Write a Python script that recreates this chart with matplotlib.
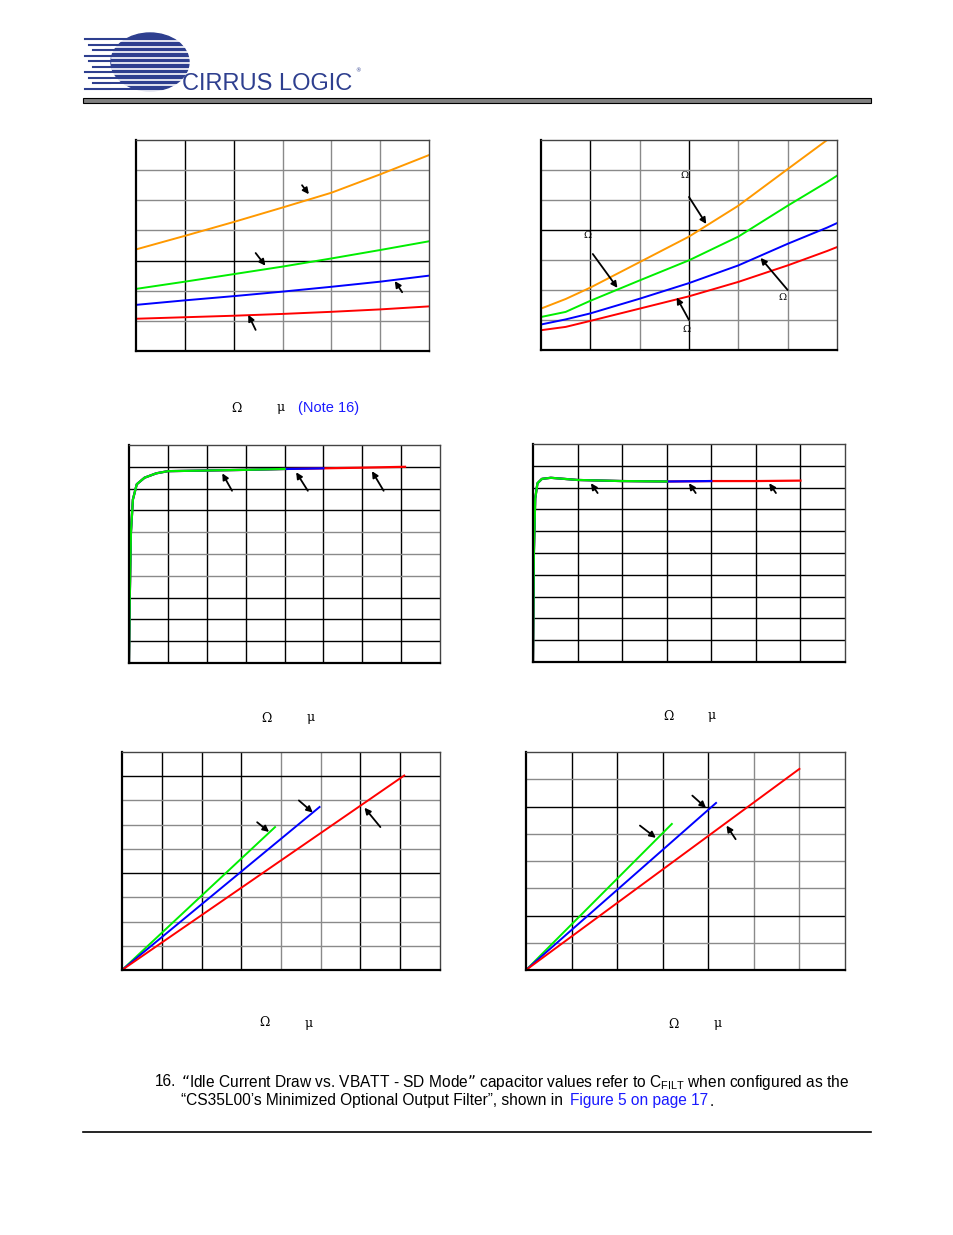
import numpy as np
import matplotlib
matplotlib.use("Agg")
import matplotlib.pyplot as plt
from matplotlib.patches import Rectangle, Ellipse

W, H = 954, 1235
fig = plt.figure(figsize=(W/100, H/100), dpi=100)
ORANGE, GREEN, BLUE, RED = "#ff9900", "#00ee00", "#0000ff", "#ff0000"

# ---------- data (grid units) ----------
# Chart A
a_x = [0, 1, 2, 3, 4, 5, 6]
a_orange = [3.37, 3.82, 4.28, 4.76, 5.25, 5.86, 6.5]
a_green = [2.06, 2.3, 2.55, 2.8, 3.07, 3.35, 3.64]
a_blue = [1.53, 1.68, 1.82, 1.97, 2.13, 2.3, 2.5]
a_red = [1.07, 1.12, 1.17, 1.23, 1.3, 1.38, 1.48]
# Chart B
b_x = [0, 0.5, 1, 2, 3, 4, 5, 5.8, 6]
b_orange = [1.38, 1.7, 2.08, 2.93, 3.78, 4.81, 6.03, 7.0, np.nan]
b_green = [1.1, 1.27, 1.64, 2.32, 2.99, 3.78, 4.81, 5.6, 5.81]
b_blue = [0.85, 1.02, 1.22, 1.71, 2.23, 2.82, 3.54, 4.08, 4.23]
b_red = [0.66, 0.77, 0.97, 1.38, 1.79, 2.27, 2.82, 3.3, 3.43]
# Chart C
c_x = [0, 0.02, 0.05, 0.1, 0.2, 0.4, 0.7, 1, 2, 3, 4, 5, 6, 7.1]
c_y = [0, 3, 6, 7.5, 8.2, 8.5, 8.7, 8.8, 8.83, 8.86, 8.9, 8.93, 8.96, 9.0]
c_end = {"red": 7.1, "blue": 5.0, "green": 4.0}
# Chart D
d_x = [0, 0.02, 0.05, 0.1, 0.2, 0.4, 0.7, 1, 2, 3, 4, 5, 6]
d_y = [0, 5, 7.5, 8.2, 8.4, 8.45, 8.4, 8.35, 8.3, 8.28, 8.3, 8.3, 8.32]
d_end = {"red": 6.0, "blue": 4.2, "green": 3.5}
# Chart E, F (linear, end points)
e_end = {"green": (3.85, 5.9), "blue": (4.97, 6.73), "red": (7.1, 8.03)}
f_end = {"green": (3.2, 5.36), "blue": (4.17, 6.13), "red": (6.0, 7.38)}

def add_ax(x0, y0, x1, y1, ncol, nrow, dark_cols=(), dark_rows=()):
    ax = fig.add_axes([x0/W, 1-y1/H, (x1-x0)/W, (y1-y0)/H])
    ax.set_xlim(0, ncol); ax.set_ylim(0, nrow)
    for i in range(1, ncol):
        ax.axvline(i, color="black" if i in dark_cols else "#8a8a8a", lw=1.0, zorder=0)
    for j in range(1, nrow):
        ax.axhline(j, color="black" if j in dark_rows else "#8a8a8a", lw=1.0, zorder=0)
    ax.set_xticks([]); ax.set_yticks([])
    for s in ax.spines.values():
        s.set_color("#444"); s.set_linewidth(1.0)
    ax.spines["left"].set_color("black"); ax.spines["bottom"].set_color("black")
    ax.spines["left"].set_linewidth(1.6); ax.spines["bottom"].set_linewidth(1.6)
    return ax

def arrow(ax, xy, xytext):
    ax.annotate("", xy=xy, xytext=xytext,
                arrowprops=dict(arrowstyle="-|>", color="black", lw=1.3, mutation_scale=9,
                                shrinkA=0, shrinkB=0))

# A
ax = add_ax(136, 140, 429, 351, 6, 7, dark_cols=(1, 2), dark_rows=(3,))
for y, c in [(a_orange, ORANGE), (a_green, GREEN), (a_blue, BLUE), (a_red, RED)]:
    ax.plot(a_x, y, color=c, lw=1.4)
arrow(ax, (3.54, 5.2), (3.4, 5.5)); arrow(ax, (2.65, 2.83), (2.45, 3.25))
arrow(ax, (5.3, 2.32), (5.45, 1.95)); arrow(ax, (2.3, 1.2), (2.45, 0.7))

# B
ax = add_ax(541, 140, 837, 350, 6, 7, dark_cols=(1, 3), dark_rows=(4,))
for y, c in [(b_orange, ORANGE), (b_green, GREEN), (b_blue, BLUE), (b_red, RED)]:
    ax.plot(b_x, y, color=c, lw=1.4)
arrow(ax, (3.35, 4.2), (3.0, 5.1)); arrow(ax, (1.55, 2.07), (1.05, 3.2))
arrow(ax, (4.45, 3.07), (5.0, 2.0)); arrow(ax, (2.75, 1.75), (3.0, 1.0))
for tx, ty in [(2.9, 5.75), (0.95, 3.75), (4.9, 1.65), (2.95, 0.6)]:
    ax.text(tx, ty, "Ω", fontsize=7, family="DejaVu Serif", ha="center")

# C
ax = add_ax(129, 445, 440, 663, 8, 10, dark_cols=(1, 2, 3, 4, 5, 6, 7), dark_rows=(1, 2, 3, 7, 8, 9))
cx = np.array(c_x); cy = np.array(c_y)
for name, c in [("red", RED), ("blue", BLUE), ("green", GREEN)]:
    m = cx <= c_end[name] + 1e-9
    ax.plot(cx[m], cy[m], color=c, lw=1.6)
arrow(ax, (2.4, 8.7), (2.65, 7.9)); arrow(ax, (4.3, 8.75), (4.6, 7.9)); arrow(ax, (6.25, 8.8), (6.55, 7.9))

# D
ax = add_ax(533, 444, 845, 662, 7, 10, dark_cols=(1, 2, 3, 4, 5, 6), dark_rows=(1, 2, 3, 4, 5, 6, 7, 8, 9))
dx = np.array(d_x); dy = np.array(d_y)
for name, c in [("red", RED), ("blue", BLUE), ("green", GREEN)]:
    m = dx <= d_end[name] + 1e-9
    ax.plot(dx[m], dy[m], color=c, lw=1.6)
arrow(ax, (1.3, 8.2), (1.45, 7.75)); arrow(ax, (3.5, 8.2), (3.65, 7.75)); arrow(ax, (5.3, 8.2), (5.45, 7.75))

# E
ax = add_ax(122, 752, 440, 970, 8, 9, dark_cols=(1, 2, 3, 6, 7), dark_rows=(4, 8))
for name, c in [("green", GREEN), ("blue", BLUE), ("red", RED)]:
    ex, ey = e_end[name]
    ax.plot([0, ex], [0, ey], color=c, lw=1.4)
arrow(ax, (3.7, 5.7), (3.4, 6.1)); arrow(ax, (4.8, 6.5), (4.45, 7.0)); arrow(ax, (6.1, 6.7), (6.5, 5.9))

# F
ax = add_ax(526, 752, 845, 970, 7, 8, dark_cols=(1, 2, 3, 4), dark_rows=(2, 6))
for name, c in [("green", GREEN), ("blue", BLUE), ("red", RED)]:
    fx, fy = f_end[name]
    ax.plot([0, fx], [0, fy], color=c, lw=1.4)
arrow(ax, (2.85, 4.85), (2.5, 5.3)); arrow(ax, (3.95, 5.95), (3.65, 6.4)); arrow(ax, (4.4, 5.3), (4.6, 4.8))

# ---------- page overlay ----------
ov = fig.add_axes([0, 0, 1, 1], zorder=-1)
ov.set_xlim(0, W); ov.set_ylim(H, 0); ov.axis("off")
navy = "#2e3f8f"
ov.add_patch(Ellipse((150, 62), 78, 58, color=navy))
stripe_y = np.arange(39, 92, 5.5)
for k, y in enumerate(stripe_y):
    ov.plot([85 + (k % 3) * 4, 150], [y, y], color=navy, lw=1.5)
    ov.plot([112, 192], [y + 2.2, y + 2.2], color="white", lw=1.2)
ov.text(182, 90, "CIRRUS LOGIC", fontsize=17, color=navy, family="Liberation Sans",
        va="baseline", ha="left")
ov.text(355, 72, "®", fontsize=4, color=navy)
ov.add_patch(Rectangle((83, 98), 788, 5, facecolor="#808080", edgecolor="black", lw=0.8))
ov.plot([83, 871], [1132, 1132], color="black", lw=1.2)

sym = dict(fontsize=9, family="DejaVu Serif", ha="center", va="center")
ov.text(236, 408, "Ω", **sym); ov.text(281, 408, "μ", **sym)
ov.text(329, 408, "(Note 16)", fontsize=10.5, color="#1a1aff", ha="center", va="center",
        family="Liberation Sans")
ov.text(266, 718, "Ω", **sym); ov.text(311, 718, "μ", **sym)
ov.text(668, 716, "Ω", **sym); ov.text(712, 716, "μ", **sym)
ov.text(264, 1023, "Ω", **sym); ov.text(309, 1023, "μ", **sym)
ov.text(673, 1024, "Ω", **sym); ov.text(718, 1024, "μ", **sym)

ft = dict(fontsize=11.2, va="center", family="Liberation Sans")
ov.text(155, 1082, "16.", **ft)
ov.text(181, 1082, "“Idle Current Draw vs. VBATT - SD Mode” capacitor values refer to C$_{\\mathregular{FILT}}$ when configured as the", **ft)
ov.text(181, 1101, "“CS35L00’s Minimized Optional Output Filter”, shown in", **ft)
ov.text(570, 1101, "Figure 5 on page 17", color="#1a1aff", **ft)
ov.text(710, 1101, ".", **ft)

fig.savefig("out.png", dpi=100)
